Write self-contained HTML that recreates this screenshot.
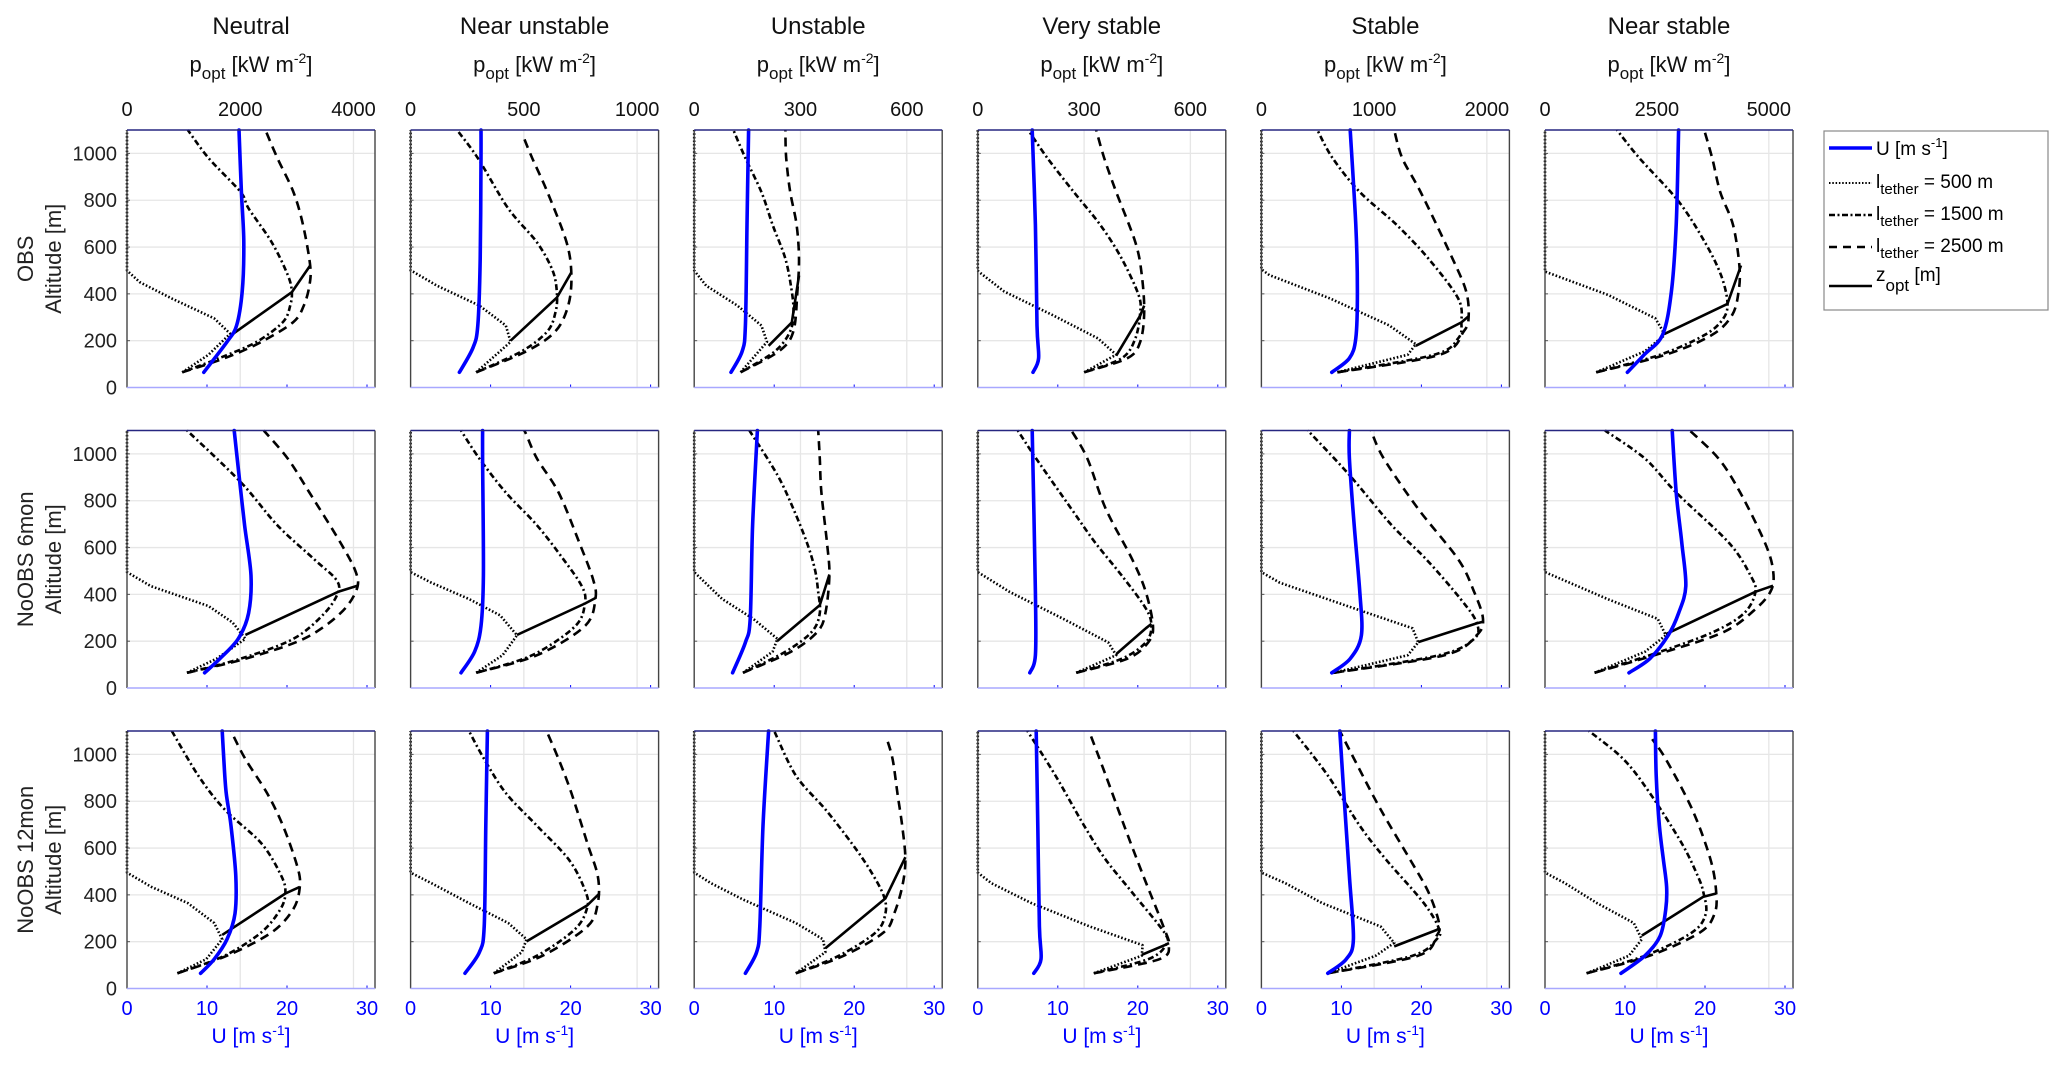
<!DOCTYPE html>
<html><head><meta charset="utf-8"><title>Wind and power profiles</title>
<style>
html,body{margin:0;padding:0;background:#fff;}
svg{display:block;font-family:"Liberation Sans",Arial,sans-serif;}
</style></head>
<body>
<svg id="fig" width="2067" height="1067" viewBox="0 0 2067 1067" xmlns="http://www.w3.org/2000/svg">
<g id="grid-layer"></g>
<g id="line-layer"></g>
<g id="frame-layer"></g>
<g id="text-layer"></g>
<g id="legend">
  <rect x="1824" y="131" width="224" height="179" fill="#fff" stroke="#888" stroke-width="1.2"/>
  <g>
    <line x1="1829" y1="148" x2="1872" y2="148" stroke="#0000ff" stroke-width="3.5"/>
    <text x="1876" y="155" font-size="19">U  [m s<tspan font-size="13" dy="-8">-1</tspan><tspan dy="8">]</tspan></text>
  </g>
  <g>
    <line x1="1829" y1="183" x2="1872" y2="183" stroke="#000" stroke-width="2" stroke-dasharray="1.5 1.8"/>
    <text x="1876" y="188" font-size="19">l<tspan font-size="15" dy="6">tether</tspan><tspan dy="-6"> = 500 m</tspan></text>
  </g>
  <g>
    <line x1="1829" y1="215" x2="1872" y2="215" stroke="#000" stroke-width="2.4" stroke-dasharray="6 2.5 2 2.5"/>
    <text x="1876" y="220" font-size="19">l<tspan font-size="15" dy="6">tether</tspan><tspan dy="-6"> = 1500 m</tspan></text>
  </g>
  <g>
    <line x1="1829" y1="247" x2="1872" y2="247" stroke="#000" stroke-width="2.4" stroke-dasharray="8 6"/>
    <text x="1876" y="252" font-size="19">l<tspan font-size="15" dy="6">tether</tspan><tspan dy="-6"> = 2500 m</tspan></text>
  </g>
  <g>
    <line x1="1829" y1="286" x2="1872" y2="286" stroke="#000" stroke-width="2.4"/>
    <text x="1876" y="281" font-size="19">z<tspan font-size="17" dy="10">opt</tspan><tspan dy="-10"> [m]</tspan></text>
  </g>
</g>
</svg>
<script>
// ---- chart data (top level) ----
const columnTitles = ["Neutral","Near unstable","Unstable","Very stable","Stable","Near stable"];
const rowLabels = ["OBS","NoOBS 6mon","NoOBS 12mon"];
const powerTickLabels = [[0,2000,4000],[0,500,1000],[0,300,600],[0,300,600],[0,1000,2000],[0,2500,5000]];
const powerAxisMax = [4380,1095,700,700,2200,5540];
const speedTicks = [0,10,20,30];
const altitudeTicks = [0,200,400,600,800,1000];
const altitudeMax = 1100;
const speedMax = 31;
// series per panel (row-major), pairs [altitude m, value on common U axis]
const windSpeed = [
 [[65,9.6],[195,12.5],[265,13.7],[410,14.4],[620,14.6],[835,14.3],[1100,14.0]],
 [[65,6.1],[170,7.8],[265,8.4],[550,8.7],[980,8.8],[1100,8.8]],
 [[65,4.6],[155,6.0],[265,6.4],[695,6.6],[1100,6.8]],
 [[65,6.9],[125,7.6],[265,7.4],[695,7.2],[1100,6.8]],
 [[65,8.8],[125,11.0],[210,11.8],[410,12.0],[695,11.8],[1100,11.1]],
 [[65,10.3],[140,12.4],[225,14.7],[410,15.8],[695,16.4],[1100,16.7]],
 [[65,9.7],[125,11.6],[210,13.9],[320,15.2],[480,15.5],[695,14.7],[910,14.0],[1100,13.4]],
 [[65,6.3],[155,8.0],[265,8.8],[480,9.1],[980,9.0],[1100,9.0]],
 [[65,4.8],[195,6.4],[295,7.0],[695,7.3],[1100,7.9]],
 [[65,6.5],[140,7.2],[410,7.2],[1100,6.8]],
 [[65,8.8],[125,11.1],[225,12.5],[410,12.3],[695,11.6],[980,11.0],[1100,11.0]],
 [[65,10.5],[125,13.1],[225,15.4],[320,16.7],[435,17.6],[620,17.1],[835,16.4],[1100,15.9]],
 [[65,9.2],[125,10.9],[210,12.5],[320,13.5],[480,13.6],[695,13.0],[835,12.4],[980,12.1],[1100,11.9]],
 [[65,6.8],[155,8.6],[265,9.2],[695,9.4],[1100,9.6]],
 [[65,6.4],[155,7.8],[265,8.2],[695,8.6],[1100,9.3]],
 [[65,7.0],[125,7.9],[265,7.7],[695,7.5],[1100,7.3]],
 [[65,8.3],[125,10.6],[210,11.5],[480,11.0],[835,10.3],[1100,9.8]],
 [[65,9.5],[140,12.5],[225,14.4],[340,15.1],[435,15.2],[550,14.8],[695,14.3],[910,13.9],[1100,13.8]]
];
const tether500 = [
 [[65,6.9],[140,10.2],[230,12.9],[295,10.9],[380,5.6],[450,1.6],[500,0],[1100,0]],
 [[65,8.2],[195,12.5],[265,11.9],[350,8.6],[435,3.3],[495,0.3],[500,0],[1100,0]],
 [[65,5.8],[195,9.1],[265,8.4],[350,5.4],[435,1.5],[495,0.1],[500,0],[1100,0]],
 [[65,13.3],[140,17.3],[210,15.0],[310,9.3],[410,3.3],[495,0.1],[500,0],[1100,0]],
 [[65,9.5],[140,18.3],[185,19.3],[265,16.0],[380,8.6],[480,1.0],[505,0],[1100,0]],
 [[65,6.4],[155,12.5],[225,15.0],[295,13.8],[395,7.9],[495,0],[1100,0]],
 [[65,7.5],[125,11.2],[210,14.8],[280,13.2],[350,10.2],[435,3.0],[495,0],[1100,0]],
 [[65,8.2],[140,11.5],[225,13.3],[310,11.2],[380,7.3],[450,2.6],[495,0],[1100,0]],
 [[65,6.1],[155,9.8],[210,10.4],[295,7.4],[380,3.5],[495,0],[1100,0]],
 [[65,12.3],[140,17.3],[195,16.3],[295,10.7],[410,4.0],[495,0],[1100,0]],
 [[65,9.0],[140,18.3],[195,19.6],[255,18.9],[340,11.6],[450,2.3],[495,0],[1100,0]],
 [[65,6.2],[155,12.5],[225,15.1],[295,14.1],[380,7.8],[495,0],[1100,0]],
 [[65,6.3],[125,9.9],[210,11.9],[280,10.9],[365,7.6],[435,3.0],[495,0],[1100,0]],
 [[65,10.4],[155,13.9],[210,14.5],[280,12.2],[365,7.3],[450,2.6],[495,0],[1100,0]],
 [[65,12.7],[155,16.4],[210,16.1],[280,12.7],[380,6.1],[450,2.1],[495,0],[1100,0]],
 [[65,14.5],[140,20.5],[185,20.6],[265,14.0],[365,6.7],[450,1.7],[495,0],[1100,0]],
 [[65,8.3],[140,14.3],[195,16.6],[265,14.9],[365,7.6],[450,3.0],[495,0],[1100,0]],
 [[65,5.2],[140,10.5],[210,12.1],[280,11.1],[365,6.5],[450,2.5],[495,0],[1100,0]]
];
const tether1500 = [
 [[65,6.9],[125,11.5],[195,16.2],[280,19.5],[350,20.4],[410,20.6],[480,20.1],[620,18.1],[765,15.2],[835,14.2],[980,10.2],[1100,7.6]],
 [[65,8.2],[155,13.9],[240,17.1],[320,18.1],[395,18.3],[495,17.8],[620,15.8],[765,12.2],[980,8.4],[1100,5.8]],
 [[65,5.8],[155,10.1],[240,12.0],[320,12.4],[410,12.2],[550,11.4],[695,9.8],[835,8.4],[980,6.4],[1100,4.9]],
 [[65,13.3],[125,18.0],[210,19.7],[320,20.3],[395,20.1],[550,18.0],[695,15.3],[835,12.0],[980,8.7],[1100,6.3]],
 [[65,9.5],[140,21.6],[210,24.6],[280,25.0],[380,24.6],[550,20.9],[695,16.9],[835,12.3],[980,8.9],[1100,7.0]],
 [[65,6.4],[140,14.4],[225,20.0],[295,22.3],[365,22.8],[480,22.0],[620,20.0],[795,16.7],[980,11.8],[1100,9.0]],
 [[65,7.5],[125,14.2],[210,20.8],[320,24.7],[410,26.4],[465,26.1],[550,23.4],[695,18.8],[880,14.2],[1100,7.5]],
 [[65,8.2],[140,15.2],[265,20.6],[365,21.8],[435,21.4],[550,19.1],[695,15.8],[835,11.9],[980,8.6],[1100,6.3]],
 [[65,6.1],[155,11.4],[240,14.7],[320,15.7],[410,15.5],[505,15.1],[620,14.1],[765,12.4],[910,10.4],[1100,6.9]],
 [[65,12.3],[125,18.0],[195,21.0],[265,21.7],[340,21.0],[480,18.0],[620,14.7],[765,11.7],[980,7.3],[1100,5.0]],
 [[65,9.0],[140,22.2],[210,26.6],[280,26.9],[380,24.9],[550,20.6],[695,16.3],[910,11.0],[1100,5.8]],
 [[65,6.2],[155,14.4],[240,21.1],[320,24.9],[410,26.3],[480,25.7],[620,23.0],[835,16.4],[980,12.5],[1100,7.5]],
 [[65,6.3],[140,12.2],[240,16.8],[340,19.2],[410,19.8],[480,19.3],[620,16.8],[765,12.2],[910,8.9],[1100,5.6]],
 [[65,10.4],[140,15.8],[255,20.6],[350,22.1],[420,21.8],[550,19.8],[695,15.8],[835,11.9],[980,9.2],[1100,7.3]],
 [[65,12.7],[140,18.1],[240,22.7],[320,23.9],[395,23.7],[505,22.0],[620,19.7],[765,16.4],[910,12.7],[1100,10.0]],
 [[65,14.5],[125,21.3],[185,23.5],[240,23.3],[410,19.3],[550,16.0],[695,13.3],[910,9.7],[1100,6.2]],
 [[65,8.3],[140,18.9],[210,21.9],[255,22.2],[365,20.3],[550,15.6],[695,12.3],[910,8.3],[1100,4.0]],
 [[65,5.2],[140,12.5],[240,18.4],[320,20.1],[410,19.8],[480,19.1],[620,17.1],[835,13.1],[980,9.8],[1100,5.5]]
];
const tether2500 = [
 [[65,6.9],[125,12.2],[195,16.8],[280,20.8],[350,22.1],[435,22.8],[520,22.9],[695,22.0],[835,20.8],[980,18.8],[1100,17.3]],
 [[65,8.2],[155,14.5],[240,18.1],[350,19.7],[480,20.1],[620,19.5],[835,17.1],[980,15.2],[1080,14.0]],
 [[65,5.8],[155,10.6],[240,12.4],[410,12.9],[550,13.1],[695,12.8],[835,12.0],[980,11.5],[1100,11.4]],
 [[65,13.3],[125,18.7],[195,20.3],[320,20.8],[480,20.5],[620,19.7],[835,17.3],[980,15.8],[1100,14.8]],
 [[65,9.5],[140,22.3],[240,25.3],[300,25.9],[410,25.6],[550,23.9],[835,19.9],[980,17.6],[1100,16.6]],
 [[65,6.4],[140,15.1],[225,20.9],[310,23.4],[410,24.2],[520,24.3],[695,23.5],[835,21.9],[980,20.9],[1100,19.9]],
 [[65,7.5],[125,14.8],[210,22.1],[320,26.7],[420,28.7],[495,28.6],[620,26.7],[835,22.8],[980,20.1],[1100,17.1]],
 [[65,8.2],[140,15.8],[265,21.8],[380,23.1],[465,22.8],[620,21.1],[835,18.5],[980,15.8],[1080,14.5],[1100,14.2]],
 [[65,6.1],[155,12.1],[240,15.4],[320,16.4],[480,16.9],[620,16.6],[835,15.9],[980,15.7],[1100,15.5]],
 [[65,12.3],[125,18.7],[195,21.3],[265,21.9],[410,21.0],[550,19.3],[765,16.0],[980,13.7],[1100,11.7]],
 [[65,9.0],[140,22.9],[225,26.9],[295,27.7],[410,26.6],[550,24.6],[765,19.6],[980,15.3],[1100,13.7]],
 [[65,6.2],[155,15.1],[240,22.4],[340,26.4],[420,28.3],[505,28.5],[620,27.5],[835,24.4],[980,21.7],[1100,18.1]],
 [[65,6.3],[140,12.5],[240,18.1],[340,20.8],[435,21.6],[520,21.3],[695,19.5],[835,17.5],[980,14.8],[1100,13.0]],
 [[65,10.4],[140,16.5],[265,22.1],[365,23.4],[480,23.4],[620,22.1],[835,20.1],[980,18.5],[1100,17.0]],
 [[65,12.7],[140,18.7],[240,23.7],[320,25.0],[435,26.0],[550,26.4],[695,26.0],[835,25.4],[980,24.8],[1075,24.0]],
 [[65,14.5],[125,22.7],[185,23.9],[265,23.2],[480,20.7],[695,18.3],[910,16.0],[1100,13.9]],
 [[65,8.3],[140,19.6],[225,21.9],[280,22.2],[410,20.9],[550,18.6],[765,14.9],[980,11.6],[1100,9.8]],
 [[65,5.2],[140,13.1],[240,19.4],[320,21.2],[410,21.4],[550,20.7],[765,18.4],[980,15.1],[1065,13.4]]
];
const optimalAltitude = [
 [[221,12.9],[407,20.6],[521,22.9]],
 [[200,12.5],[385,18.3],[492,20.1]],
 [[178,9.3],[278,12.2],[478,13.1]],
 [[136,17.3],[307,20.3],[350,20.8]],
 [[178,19.3],[278,25.0],[304,25.9]],
 [[228,14.9],[357,22.8],[521,24.5]],
 [[227,14.8],[411,26.4],[437,28.8]],
 [[227,13.3],[361,21.8],[386,23.2]],
 [[201,10.4],[354,15.7],[485,16.9]],
 [[145,17.3],[255,21.0],[274,21.7]],
 [[196,19.6],[276,26.9],[283,27.7]],
 [[230,15.1],[411,26.3],[437,28.5]],
 [[229,11.9],[406,19.8],[434,21.6]],
 [[201,14.5],[356,22.1],[406,23.6]],
 [[172,16.4],[385,23.9],[561,26.4]],
 [[144,20.5],[187,23.5],[194,23.9]],
 [[180,16.6],[250,21.9],[257,22.2]],
 [[226,12.1],[392,19.8],[406,21.4]]
];

// ---- layout ----
const NS = "http://www.w3.org/2000/svg";
const panelLeft = c => 127 + c * 283.6;
const panelTop = r => [130, 430.5, 731][r];
const PW = 248, PH = 257.5;
function xU(c, v){ return panelLeft(c) + v / speedMax * PW; }
function xP(c, v){ return panelLeft(c) + v / powerAxisMax[c] * PW; }
function yA(r, a){ return panelTop(r) + PH * (1 - a / altitudeMax); }
function mk(tag, attrs, parent){
  const e = document.createElementNS(NS, tag);
  for (const k in attrs) e.setAttribute(k, attrs[k]);
  parent.appendChild(e);
  return e;
}
const grid = document.getElementById('grid-layer');
const lines = document.getElementById('line-layer');
const frame = document.getElementById('frame-layer');
const txt = document.getElementById('text-layer');

function pathFrom(r, c, pts){
  return pts.map((p,i)=>(i?'L':'M')+xU(c,p[1]).toFixed(1)+' '+yA(r,p[0]).toFixed(1)).join(' ');
}
function smoothFrom(r, c, pts){
  const P = pts.map(p => [xU(c,p[1]), yA(r,p[0])]);
  let d = 'M' + P[0][0].toFixed(1) + ' ' + P[0][1].toFixed(1);
  for (let i = 0; i < P.length - 1; i++){
    const p0 = P[Math.max(0,i-1)], p1 = P[i], p2 = P[i+1], p3 = P[Math.min(P.length-1,i+2)];
    const k = 0.16;
    const c1 = [p1[0] + (p2[0]-p0[0])*k, p1[1] + (p2[1]-p0[1])*k];
    const c2 = [p2[0] - (p3[0]-p1[0])*k, p2[1] - (p3[1]-p1[1])*k];
    d += ' C' + c1[0].toFixed(1)+' '+c1[1].toFixed(1)+' '+c2[0].toFixed(1)+' '+c2[1].toFixed(1)+' '+p2[0].toFixed(1)+' '+p2[1].toFixed(1);
  }
  return d;
}

for (let r = 0; r < 3; r++){
  for (let c = 0; c < 6; c++){
    const i = r * 6 + c;
    const L = panelLeft(c), T = panelTop(r);
    altitudeTicks.forEach(a => {
      if (a === 0) return;
      const g = mk('line', {x1:L, x2:L+PW, y1:yA(r,a), y2:yA(r,a), stroke:'#e6e6e6', 'stroke-width':1.3}, grid);
      
      
      const tk = mk('line', {x1:L, x2:L+3, y1:yA(r,a), y2:yA(r,a), stroke:'#555', 'stroke-width':1}, frame);
      
      
    });
    powerTickLabels[c].forEach(v => {
      if (v === 0) return;
      const g = mk('line', {x1:xP(c,v), x2:xP(c,v), y1:T, y2:T+PH, stroke:'#e6e6e6', 'stroke-width':1.3}, grid);
      
      
    });
    speedTicks.forEach(v => {
      if (v === 0) return;
      const tk = mk('line', {x1:xU(c,v), x2:xU(c,v), y1:T+PH, y2:T+PH-3, stroke:'#0000ff', 'stroke-width':1}, frame);
      
      
    });
    const s1 = mk('path', {d:pathFrom(r,c,tether500[i]), fill:'none', stroke:'#000', 'stroke-width':2.6, 'stroke-dasharray':'1.6 2', 'stroke-linejoin':'round'}, lines);
    
    
    const s2 = mk('path', {d:smoothFrom(r,c,tether1500[i]), fill:'none', stroke:'#000', 'stroke-width':2.6, 'stroke-dasharray':'6 3 2 3', 'stroke-linejoin':'round'}, lines);
    
    
    const s3 = mk('path', {d:smoothFrom(r,c,tether2500[i]), fill:'none', stroke:'#000', 'stroke-width':2.6, 'stroke-dasharray':'9 6', 'stroke-linejoin':'round'}, lines);
    
    
    const s4 = mk('path', {d:pathFrom(r,c,optimalAltitude[i]), fill:'none', stroke:'#000', 'stroke-width':2.6, 'stroke-linejoin':'round'}, lines);
    
    
    const s0 = mk('path', {d:smoothFrom(r,c,windSpeed[i]), fill:'none', stroke:'#0000ff', 'stroke-width':3.6, 'stroke-linejoin':'round', 'stroke-linecap':'round'}, lines);
    
    
    const fl = mk('line', {x1:L, x2:L, y1:T, y2:T+PH, stroke:'#444', 'stroke-width':1.4}, frame);
    
    
    const fr = mk('line', {x1:L+PW, x2:L+PW, y1:T, y2:T+PH, stroke:'#444', 'stroke-width':1.4}, frame);
    
    
    const ft = mk('line', {x1:L, x2:L+PW, y1:T, y2:T, stroke:'#262680', 'stroke-width':1.6}, frame);
    
    
    const fb = mk('line', {x1:L, x2:L+PW, y1:T+PH, y2:T+PH, stroke:'#a8a8ff', 'stroke-width':1.6}, frame);
    
    

    if (c === 0){
      altitudeTicks.forEach(a => {
        const t = mk('text', {x:L-10, y:yA(r,a)+7, 'text-anchor':'end', 'font-size':20, fill:'#222'}, txt);
        t.textContent = a;
        
        
      });
      const cy = T + PH/2;
      const rl = mk('text', {x:0, y:0, transform:`translate(33 ${cy}) rotate(-90)`, 'text-anchor':'middle', 'font-size':22, fill:'#222'}, txt);
      rl.textContent = rowLabels[r];
      
      
      const al = mk('text', {x:0, y:0, transform:`translate(61 ${cy}) rotate(-90)`, 'text-anchor':'middle', 'font-size':22, fill:'#222'}, txt);
      al.textContent = 'Altitude [m]';
      
      
    }
    if (r === 0){
      const cx = L + PW/2;
      const tt = mk('text', {x:cx, y:34, 'text-anchor':'middle', 'font-size':24, fill:'#111'}, txt);
      tt.textContent = columnTitles[c];
      
      
      const pt = mk('text', {x:cx, y:72, 'text-anchor':'middle', 'font-size':22, fill:'#111'}, txt);
      pt.innerHTML = 'p<tspan font-size="17" dy="7">opt</tspan><tspan dy="-7"> [kW m</tspan><tspan font-size="14" dy="-9">-2</tspan><tspan dy="9">]</tspan>';
      
      
      powerTickLabels[c].forEach(v => {
        const t = mk('text', {x:xP(c,v), y:116, 'text-anchor':'middle', 'font-size':20, fill:'#111'}, txt);
        t.textContent = v;
        
        
      });
    }
    if (r === 2){
      speedTicks.forEach(v => {
        const t = mk('text', {x:xU(c,v), y:1015, 'text-anchor':'middle', 'font-size':20, fill:'#0000ff'}, txt);
        t.textContent = v;
        
        
      });
      const ul = mk('text', {x:L+PW/2, y:1043, 'text-anchor':'middle', 'font-size':21, fill:'#0000ff'}, txt);
      ul.innerHTML = 'U [m s<tspan font-size="14" dy="-8">-1</tspan><tspan dy="8">]</tspan>';
      
      
    }
  }
}
</script>
</body></html>
